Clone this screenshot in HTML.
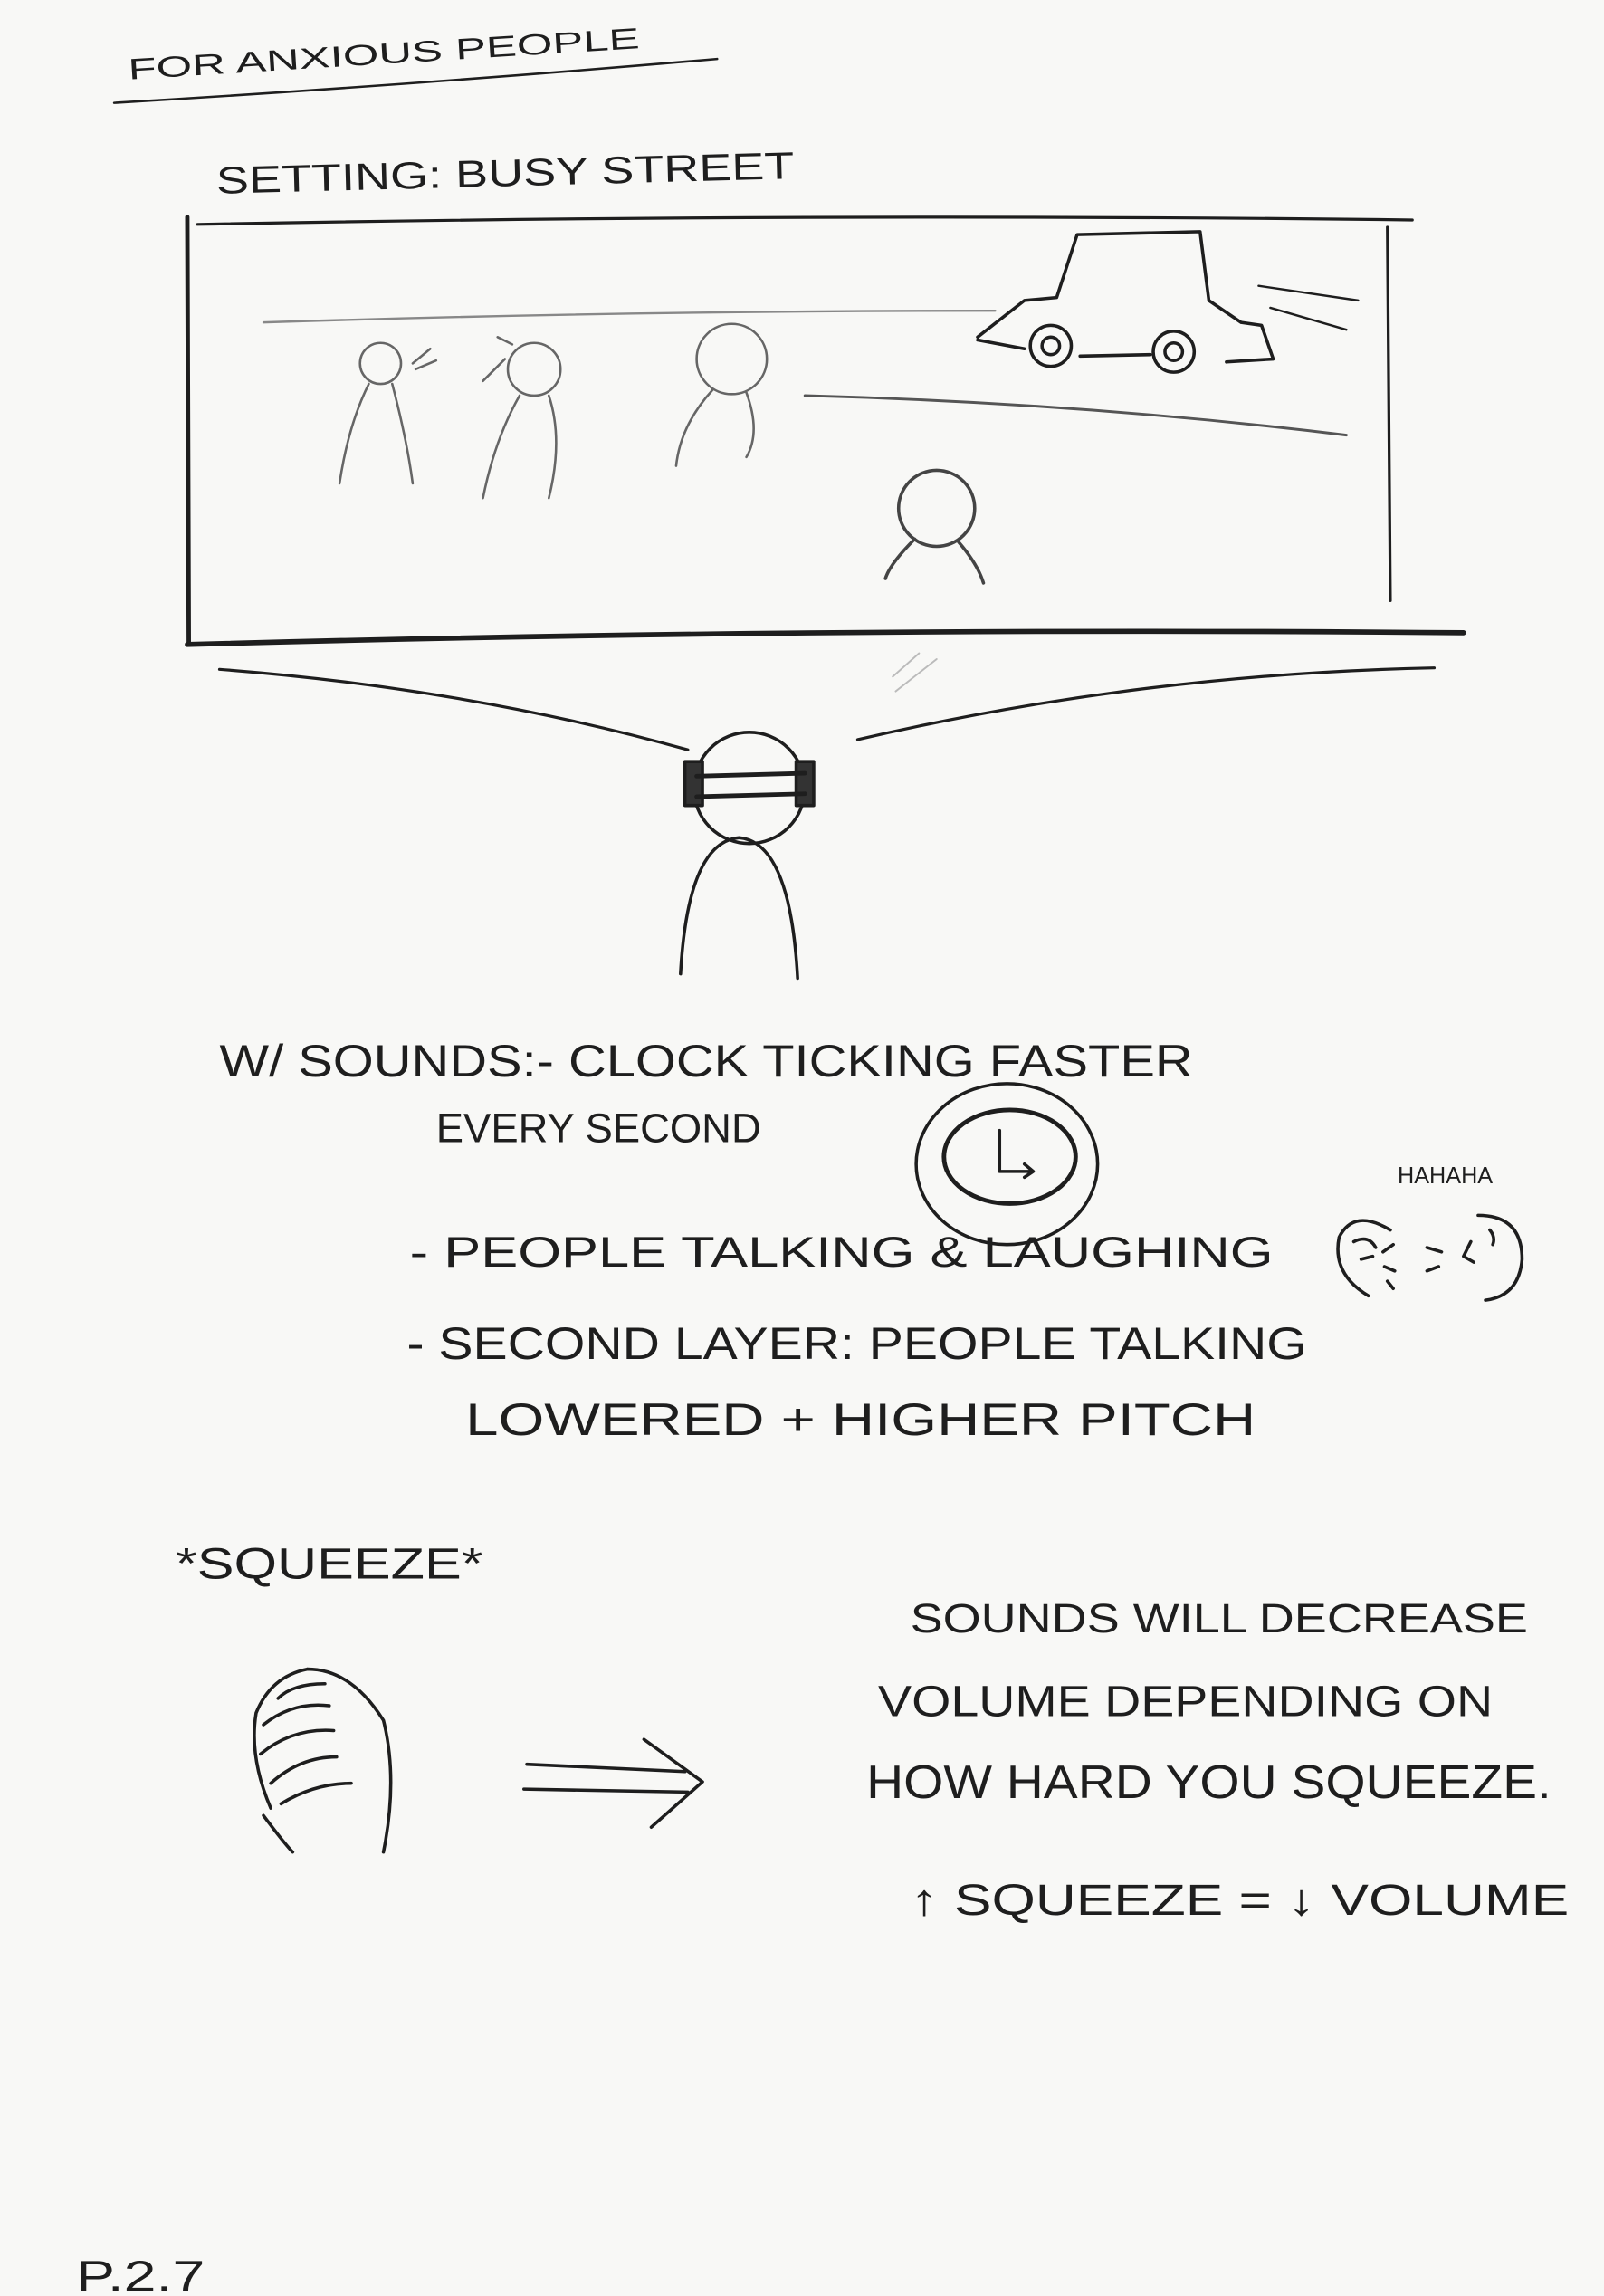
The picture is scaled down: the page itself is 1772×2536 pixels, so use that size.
<!DOCTYPE html>
<html><head><meta charset="utf-8"><style>
html,body{margin:0;padding:0;background:#f8f8f6;}
svg{display:block;}
text{font-family:"Liberation Sans",sans-serif;fill:#1e1e1e;font-weight:normal;}
</style></head><body>
<svg width="1772" height="2536" viewBox="0 0 1096 1568" xmlns="http://www.w3.org/2000/svg">
<rect width="1096" height="1568" fill="#f8f8f6"/>
<g fill="none" stroke="#1e1e1e" stroke-width="2.2" stroke-linecap="round" stroke-linejoin="round">
<path d="M78 70 Q280 58 490 40" stroke-width="1.6"/>
<path d="M135 153 Q550 145 965 150" stroke-width="2"/>
<path d="M128 148 L129 440" stroke-width="3"/>
<path d="M948 155 L950 410" stroke-width="2"/>
<path d="M128 440 Q560 428 1000 432" stroke-width="3.5"/>
<path d="M180 220 Q430 212 680 212" stroke="#888" stroke-width="1.5"/>
<path d="M550 270 Q740 275 920 297" stroke="#555" stroke-width="1.8"/>
<path d="M668 230 L700 205 L722 203 L736 160 L820 158 L826 205 L848 220 L862 222 L870 245 L838 247 M786 242 L738 243 M700 238 L668 232"/>
<circle cx="718" cy="236" r="14"/><circle cx="718" cy="236" r="6"/>
<circle cx="802" cy="240" r="14"/><circle cx="802" cy="240" r="6"/>
<path d="M860 195 L928 205 M868 210 L920 225" stroke-width="1.5"/>
<g stroke="#666" stroke-width="1.6">
<circle cx="260" cy="248" r="14"/><path d="M252 262 Q238 290 232 330 M268 262 Q278 300 282 330"/>
<path d="M282 248 L294 238 M284 252 L298 246"/>
<circle cx="365" cy="252" r="18"/><path d="M355 270 Q338 300 330 340 M375 270 Q385 300 375 340 M330 260 L345 245 M340 230 L350 235"/>
<circle cx="500" cy="245" r="24"/><path d="M487 266 Q465 290 462 318 M510 268 Q520 295 510 312"/>
</g>
<circle cx="640" cy="347" r="26" stroke="#444"/>
<path d="M625 368 Q608 385 605 395 M655 370 Q668 385 672 398" stroke="#444"/>
<path d="M150 457 Q320 470 470 512" stroke-width="2"/>
<path d="M586 505 Q780 460 980 456" stroke-width="2"/>
<path d="M612 472 L640 450 M610 462 L628 446" stroke="#bbb" stroke-width="1.2"/>
<circle cx="512" cy="538" r="38"/>
<rect x="468" y="520" width="12" height="30" fill="#333"/>
<rect x="544" y="520" width="12" height="30" fill="#333"/>
<path d="M476 530 L550 528 M476 544 L550 542" stroke-width="3"/>
<path d="M465 665 Q470 575 505 572 Q540 575 545 668"/>
<ellipse cx="688" cy="795" rx="62" ry="55"/>
<ellipse cx="690" cy="790" rx="45" ry="32" stroke-width="3"/>
<path d="M683 772 L683 800 L705 800 M700 795 L706 800 L700 804"/>
<path d="M950 840 Q925 825 915 845 Q910 870 935 885 M925 848 Q935 843 940 852 M930 860 L938 858 M945 855 L952 850 M946 865 L953 868 M948 875 L952 880"/>
<path d="M1010 830 Q1040 830 1040 860 Q1038 885 1015 888 M1005 848 L1000 858 L1007 862 M1018 840 Q1022 845 1020 850 M985 855 L975 852 M983 865 L975 868"/>
<path d="M185 1235 Q170 1200 175 1170 Q185 1145 210 1140 M210 1140 Q240 1140 262 1175 Q272 1215 262 1265 M190 1160 Q200 1150 222 1150 M180 1178 Q200 1162 225 1165 M178 1198 Q200 1180 228 1182 M185 1218 Q205 1200 230 1200 M192 1232 Q215 1218 240 1218 M180 1240 Q195 1260 200 1265"/>
<path d="M360 1205 L468 1210 M358 1222 L470 1224 M440 1188 L480 1217 L445 1248"/>
</g>
<g>
<text x="88" y="54" font-size="20" textLength="350" lengthAdjust="spacingAndGlyphs" transform="rotate(-3.5 88 54)">FOR ANXIOUS PEOPLE</text>
<text x="148" y="132" font-size="26" textLength="395" lengthAdjust="spacingAndGlyphs" transform="rotate(-1.5 148 132)">SETTING: BUSY STREET</text>
<text x="150" y="735" font-size="31" textLength="665" lengthAdjust="spacingAndGlyphs">W/ SOUNDS:- CLOCK TICKING FASTER</text>
<text x="298" y="780" font-size="28" textLength="222" lengthAdjust="spacingAndGlyphs">EVERY SECOND</text>
<text x="955" y="808" font-size="16" textLength="65" lengthAdjust="spacingAndGlyphs">HAHAHA</text>
<text x="280" y="865" font-size="29" textLength="590" lengthAdjust="spacingAndGlyphs">- PEOPLE TALKING &amp; LAUGHING</text>
<text x="278" y="928" font-size="31" textLength="615" lengthAdjust="spacingAndGlyphs">- SECOND LAYER: PEOPLE TALKING</text>
<text x="318" y="980" font-size="31" textLength="540" lengthAdjust="spacingAndGlyphs">LOWERED + HIGHER PITCH</text>
<text x="120" y="1078" font-size="30" textLength="210" lengthAdjust="spacingAndGlyphs">*SQUEEZE*</text>
<text x="622" y="1115" font-size="28" textLength="422" lengthAdjust="spacingAndGlyphs">SOUNDS WILL DECREASE</text>
<text x="600" y="1172" font-size="30" textLength="420" lengthAdjust="spacingAndGlyphs">VOLUME DEPENDING ON</text>
<text x="592" y="1228" font-size="32" textLength="468" lengthAdjust="spacingAndGlyphs">HOW HARD YOU SQUEEZE.</text>
<text x="622" y="1308" font-size="30" textLength="450" lengthAdjust="spacingAndGlyphs">↑ SQUEEZE = ↓ VOLUME</text>
<text x="52" y="1565" font-size="30" textLength="88" lengthAdjust="spacingAndGlyphs">P.2.7</text>
</g>
</svg>
</body></html>
